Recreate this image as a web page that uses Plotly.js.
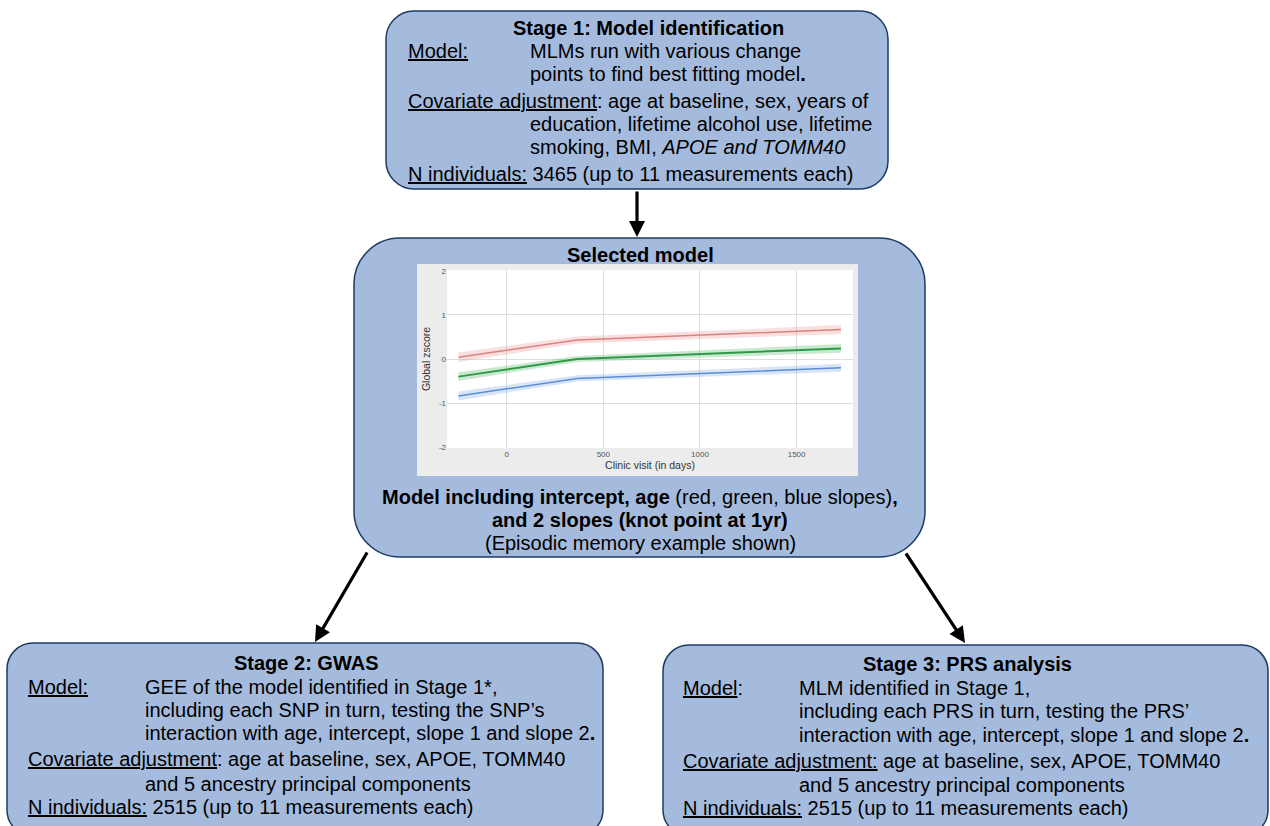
<!DOCTYPE html>
<html>
<head>
<meta charset="utf-8">
<script src="https://cdn.plot.ly/plotly-3.0.1.min.js"></script>
<style>html,body{margin:0;padding:0;background:#fff;}#chart{width:1270px;height:826px;}</style>
</head>
<body>
<div id="chart"></div>
<script>
// ---- data ----
const visitDays = [-250, 365, 1730];
const redMean   = [0.04, 0.43, 0.67];
const greenMean = [-0.40, 0.00, 0.24];
const blueMean  = [-0.84, -0.44, -0.20];
const redCI     = [0.11, 0.08, 0.10];
const greenCI   = [0.10, 0.07, 0.10];
const blueCI    = [0.10, 0.07, 0.09];
const xTicks    = [0, 500, 1000, 1500];
const xTickText = ['0', '500', '1000', '1500'];
const yTicks    = [-2, -1, 0, 1, 2];
const yTickText = ['-2', '-1', '0', '1', '2'];

const W = 1270, H = 826;
const px = x => x / W;
const py = y => 1 - y / H;

function band(mean, ci, sign) { return mean.map((m, i) => m + sign * ci[i]); }

function series(mean, ci, lineColor, fillColor, lw) {
  return [
    {x: visitDays, y: band(mean, ci, 1), mode: 'lines', line: {width: 0, color: fillColor}, hoverinfo: 'skip', showlegend: false},
    {x: visitDays, y: band(mean, ci, -1), mode: 'lines', fill: 'tonexty', fillcolor: fillColor, line: {width: 0, color: fillColor}, hoverinfo: 'skip', showlegend: false},
    {x: visitDays, y: mean, mode: 'lines', line: {color: lineColor, width: lw}, showlegend: false}
  ];
}

const traces = [].concat(
  series(redMean, redCI, '#d9837f', 'rgba(232,140,140,0.28)', 1.5),
  series(greenMean, greenCI, '#2f9a48', 'rgba(70,175,90,0.28)', 2),
  series(blueMean, blueCI, '#5b8ed6', 'rgba(110,155,225,0.26)', 1.5)
);

function rrect(x0, y0, x1, y1, r, fill, line) {
  const k = 0.4477; // 1 - 0.5523
  const X = v => px(v).toFixed(5), Y = v => py(v).toFixed(5);
  const d = 'M' + X(x0 + r) + ',' + Y(y0) +
    ' L' + X(x1 - r) + ',' + Y(y0) +
    ' C' + X(x1 - r * k) + ',' + Y(y0) + ' ' + X(x1) + ',' + Y(y0 + r * k) + ' ' + X(x1) + ',' + Y(y0 + r) +
    ' L' + X(x1) + ',' + Y(y1 - r) +
    ' C' + X(x1) + ',' + Y(y1 - r * k) + ' ' + X(x1 - r * k) + ',' + Y(y1) + ' ' + X(x1 - r) + ',' + Y(y1) +
    ' L' + X(x0 + r) + ',' + Y(y1) +
    ' C' + X(x0 + r * k) + ',' + Y(y1) + ' ' + X(x0) + ',' + Y(y1 - r * k) + ' ' + X(x0) + ',' + Y(y1 - r) +
    ' L' + X(x0) + ',' + Y(y0 + r) +
    ' C' + X(x0) + ',' + Y(y0 + r * k) + ' ' + X(x0 + r * k) + ',' + Y(y0) + ' ' + X(x0 + r) + ',' + Y(y0) + ' Z';
  return {type: 'path', xref: 'paper', yref: 'paper', path: d, fillcolor: fill,
          line: line ? {color: line, width: 1.5} : {width: 0}, layer: 'below'};
}

const boxFill = '#a5bbdd', boxLine = '#1f3b62';
const shapes = [
  rrect(386, 11, 888, 189, 28, boxFill, boxLine),
  rrect(354, 238, 925, 557, 46, boxFill, boxLine),
  rrect(7, 643, 603, 836, 26, boxFill, boxLine),
  rrect(663, 645, 1268, 836, 26, boxFill, boxLine),
  {type: 'rect', xref: 'paper', yref: 'paper', x0: px(417), x1: px(858), y0: py(476), y1: py(264), fillcolor: '#ececec', line: {width: 0}, layer: 'below'},
  {type: 'rect', xref: 'paper', yref: 'paper', x0: px(447), x1: px(853), y0: py(448), y1: py(270), fillcolor: '#ffffff', line: {width: 0}, layer: 'below'}
];

const FONT = 'Liberation Sans, Arial, Helvetica, sans-serif';
const FS = 20;
function txt(text, x, y, anchor) {
  return {text: text, xref: 'paper', yref: 'paper', x: px(x), y: py(y), xanchor: anchor || 'left', yanchor: 'middle',
          showarrow: false, font: {family: FONT, size: FS, color: '#000'}};
}
function arrow(xh, yh, xt, yt) {
  return {text: '', xref: 'paper', yref: 'paper', x: px(xh), y: py(yh), ax: xt - xh, ay: yt - yh,
          showarrow: true, arrowhead: 2, arrowsize: 1, arrowwidth: 3.2, arrowcolor: '#000', standoff: 0, startstandoff: 0};
}

const annotations = [
  // Stage 1
  txt('<b>Stage 1: Model identification</b>', 648, 28, 'center'),
  txt('<u>Model:</u>', 406, 51),
  txt('MLMs run with various change', 528, 51),
  txt('points to find best fitting model<b>.</b>', 528, 74),
  txt('<u>Covariate adjustment</u>: age at baseline, sex, years of', 406, 101),
  txt('education, lifetime alcohol use, lifetime', 528, 124),
  txt('smoking, BMI, <i>APOE and TOMM40</i>', 528, 147),
  txt('<u>N individuals:</u> 3465 (up to 11 measurements each)', 406, 174),
  // Selected model
  txt('<b>Selected model</b>', 640, 255, 'center'),
  txt('<b>Model including intercept, age</b> (red, green, blue slopes)<b>,</b>', 640, 497, 'center'),
  txt('<b>and 2 slopes (knot point at 1yr)</b>', 640, 520, 'center'),
  txt('(Episodic memory example shown)', 640, 543, 'center'),
  // Stage 2
  txt('<b>Stage 2: GWAS</b>', 306, 663, 'center'),
  txt('<u>Model:</u>', 26, 687),
  txt('GEE of the model identified in Stage 1*,', 143, 687),
  txt('including each SNP in turn, testing the SNP\u2019s', 143, 710),
  txt('interaction with age, intercept, slope 1 and slope 2<b>.</b>', 143, 733),
  txt('<u>Covariate adjustment</u>: age at baseline, sex, APOE, TOMM40', 26, 759),
  txt('and 5 ancestry principal components', 143, 784),
  txt('<u>N individuals:</u> 2515 (up to 11 measurements each)', 26, 807),
  // Stage 3
  txt('<b>Stage 3: PRS analysis</b>', 967, 664, 'center'),
  txt('<u>Model</u>:', 681, 688),
  txt('MLM identified in Stage 1,', 797, 688),
  txt('including each PRS in turn, testing the PRS\u2019', 797, 711),
  txt('interaction with age, intercept, slope 1 and slope 2<b>.</b>', 797, 735),
  txt('<u>Covariate adjustment:</u> age at baseline, sex, APOE, TOMM40', 681, 761),
  txt('and 5 ancestry principal components', 797, 785),
  txt('<u>N individuals:</u> 2515 (up to 11 measurements each)', 681, 808),
  // arrows
  arrow(637, 237, 637, 190),
  arrow(315, 642, 368, 551),
  arrow(965, 643, 905, 552)
];

const layout = {
  width: W, height: H,
  margin: {l: 0, r: 0, t: 0, b: 0},
  paper_bgcolor: '#ffffff',
  plot_bgcolor: 'rgba(0,0,0,0)',
  showlegend: false,
  xaxis: {
    domain: [px(447), px(853)], range: [-309, 1792],
    tickvals: xTicks, ticktext: xTickText, ticks: '', showline: false, zeroline: false,
    gridcolor: '#dedede', gridwidth: 1,
    tickfont: {family: FONT, size: 8, color: '#555'},
    title: {text: 'Clinic visit (in days)', font: {family: FONT, size: 10.5, color: '#333'}, standoff: 3}
  },
  yaxis: {
    domain: [py(448), py(270)], range: [-2.02, 2.02],
    tickvals: yTicks, ticktext: yTickText, ticks: '', showline: false, zeroline: false,
    gridcolor: '#dedede', gridwidth: 1,
    tickfont: {family: FONT, size: 8, color: '#555'},
    title: {text: 'Global zscore', font: {family: FONT, size: 10.5, color: '#333'}, standoff: 6}
  },
  shapes: shapes,
  annotations: annotations
};

Plotly.newPlot('chart', traces, layout, {displayModeBar: false, staticPlot: true});
</script>
</body>
</html>
